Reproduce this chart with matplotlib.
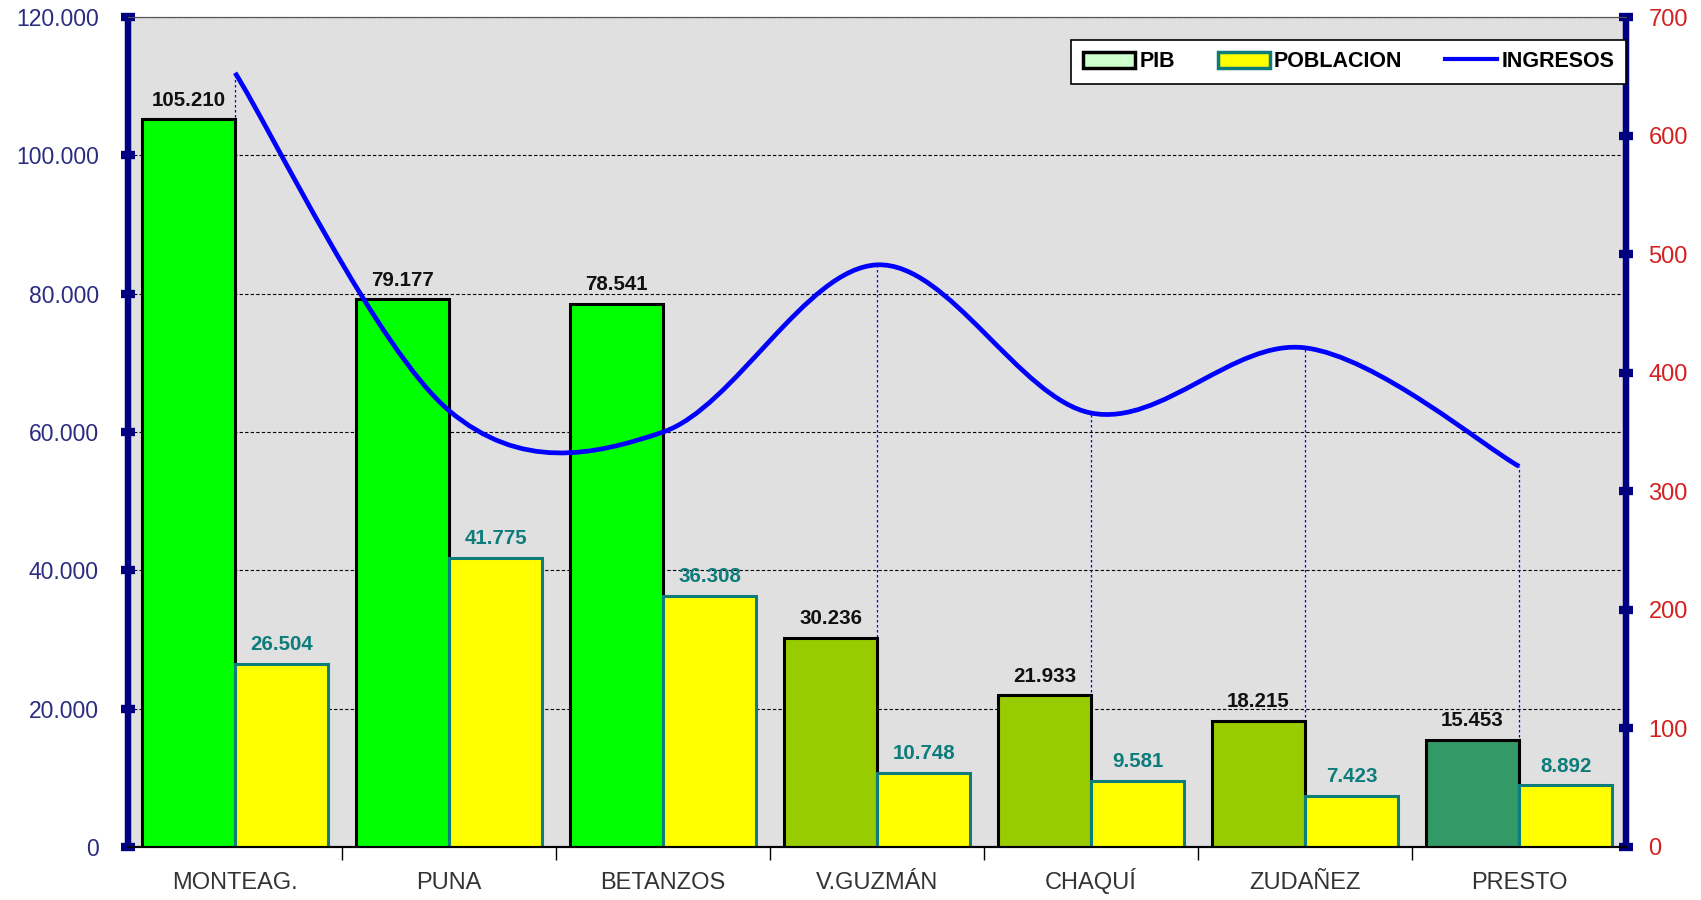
import matplotlib.pyplot as plt
from matplotlib.path import Path
from matplotlib.patches import PathPatch, Patch
from matplotlib.lines import Line2D
from matplotlib.ticker import FuncFormatter, MultipleLocator

plt.rcParams['font.family'] = ['Liberation Sans', 'DejaVu Sans']

# Data
categories = ['MONTEAG.', 'PUNA', 'BETANZOS', 'V.GUZMÁN', 'CHAQUÍ', 'ZUDAÑEZ', 'PRESTO']
pib = [105210, 79177, 78541, 30236, 21933, 18215, 15453]
poblacion = [26504, 41775, 36308, 10748, 9581, 7423, 8892]
ingresos = [653, 368, 350, 491, 366, 421, 321]
pib_colors = ['#00FF00', '#00FF00', '#00FF00', '#99CC00', '#99CC00', '#99CC00', '#339966']


def dots(v, pos=None):
    return f'{int(v):,}'.replace(',', '.')


navy = '#000080'
teal = '#0E7C7B'
x = list(range(len(categories)))

fig = plt.figure(figsize=(17.01, 9.0), dpi=100)
ax = fig.add_axes([0.0753, 0.059, 0.8807, 0.922])
ax.set_facecolor('#e0e0e0')
ax2 = ax.twinx()

# bars
w = 0.435
xp = [i - w / 2 for i in x]
xq = [i + w / 2 for i in x]
ax.bar(xp, pib, width=w, color=pib_colors, edgecolor='black', linewidth=2.2, zorder=3)
ax.bar(xq, poblacion, width=w, color='#FFFF00', edgecolor=teal, linewidth=2.2, zorder=3)

for xi, v in zip(xp, pib):
    ax.annotate(dots(v), (xi, v), xytext=(0, 7), textcoords='offset points',
                ha='center', va='bottom', fontsize=14.8, fontweight='bold', color='#111111', zorder=5)
for xi, v in zip(xq, poblacion):
    ax.annotate(dots(v), (xi, v), xytext=(0, 7), textcoords='offset points',
                ha='center', va='bottom', fontsize=14.8, fontweight='bold', color=teal, zorder=5)

# drop lines (in secondary-axis units, drawn behind the bars)
ax.vlines(x, 0, ingresos, transform=ax2.transData, colors='#0000FF',
          linewidth=0.9, linestyles=(0, (2, 2)), zorder=2)

# smoothed INGRESOS line as cubic Bezier path through the data points
pts = list(zip(x, ingresos))
verts = [pts[0]]
codes = [Path.MOVETO]
n = len(pts)
for i in range(n - 1):
    p0 = pts[i - 1] if i > 0 else pts[i]
    p1 = pts[i]
    p2 = pts[i + 1]
    p3 = pts[i + 2] if i + 2 < n else pts[i + 1]
    c1 = (p1[0] + (p2[0] - p0[0]) / 6, p1[1] + (p2[1] - p0[1]) / 6)
    c2 = (p2[0] - (p3[0] - p1[0]) / 6, p2[1] - (p3[1] - p1[1]) / 6)
    verts += [c1, c2, p2]
    codes += [Path.CURVE4] * 3
ax2.add_patch(PathPatch(Path(verts, codes), fill=False, edgecolor='#0000FF',
                        linewidth=3.4, zorder=4, capstyle='butt'))

# axes
ax.set_xlim(-0.5, len(categories) - 0.5)
ax.set_ylim(0, 120000)
ax2.set_ylim(0, 700)
ax.yaxis.set_major_locator(MultipleLocator(20000))
ax.yaxis.set_major_formatter(FuncFormatter(dots))
ax2.yaxis.set_major_locator(MultipleLocator(100))

ax.grid(axis='y', color='black', linestyle=(0, (3, 2)), linewidth=0.8, zorder=1)
ax.set_axisbelow(True)

ax.set_xticks(x)
ax.set_xticklabels(categories, fontsize=17, color='#333333')
for lab in ax.get_xticklabels():
    lab.set_verticalalignment('baseline')
ax.set_xticks([i + 0.5 for i in x[:-1]], minor=True)
ax.tick_params(axis='x', which='major', length=0, pad=30)
ax.tick_params(axis='x', which='minor', length=9, width=1, color='black', direction='out')

ax.tick_params(axis='y', length=10, width=6, color=navy, direction='inout',
               labelsize=16.5, labelcolor='#2B2B80', pad=16)
ax2.tick_params(axis='y', length=10, width=6, color=navy, direction='inout',
                labelsize=17, labelcolor='#D42020', pad=11)

for a in (ax, ax2):
    a.spines['left'].set_color(navy)
    a.spines['left'].set_linewidth(4.5)
    a.spines['right'].set_color(navy)
    a.spines['right'].set_linewidth(4.5)
    a.spines['top'].set_color('#555555')
    a.spines['top'].set_linewidth(0.8)
    a.spines['bottom'].set_color('black')
    a.spines['bottom'].set_linewidth(1.5)

# legend
handles = [Patch(facecolor='#CCFFCC', edgecolor='black', linewidth=2.5),
           Patch(facecolor='#FFFF00', edgecolor=teal, linewidth=2.5),
           Line2D([0], [0], color='#0000FF', linewidth=3)]
leg = ax2.legend(handles, ['PIB', 'POBLACION', 'INGRESOS'], ncol=3,
                 loc='upper right', bbox_to_anchor=(1.0, 0.973), borderaxespad=0,
                 frameon=True, fancybox=False, framealpha=1, edgecolor='black',
                 prop={'weight': 'bold', 'size': 15.5}, handlelength=2.4,
                 handleheight=0.8, handletextpad=0.2, columnspacing=2.0,
                 borderpad=0.55)
leg.get_frame().set_linewidth(1.2)
leg.set_zorder(10)

plt.savefig('out.png', dpi=100)
